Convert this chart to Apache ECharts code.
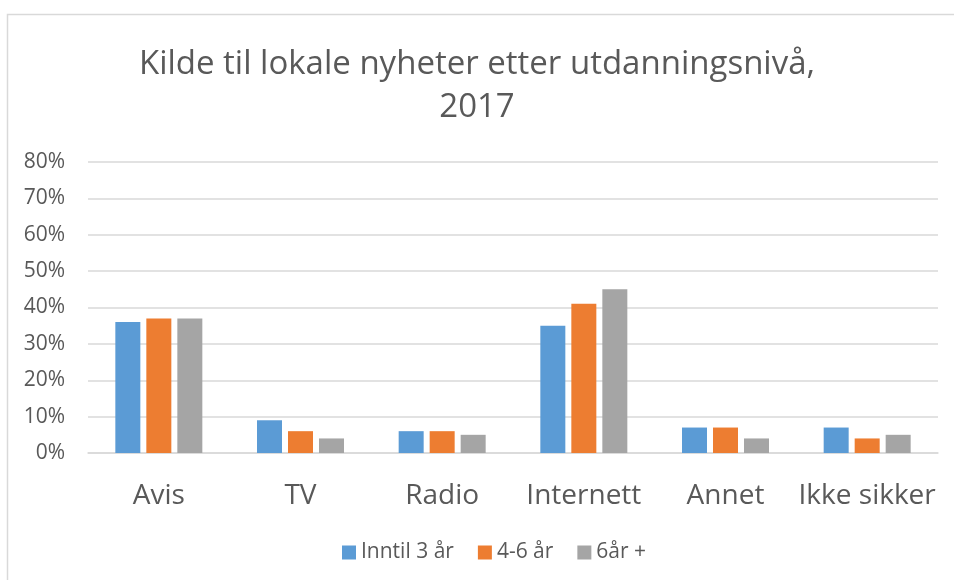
<!DOCTYPE html>
<html>
<head>
<meta charset="utf-8">
<script src="https://cdn.jsdelivr.net/npm/echarts@6/dist/echarts.min.js"></script>
<style>html,body{margin:0;padding:0;background:#fff}#c{width:954px;height:580px}</style>
</head>
<body>
<div id="c"></div>
<script>
const categories = ["Avis", "TV", "Radio", "Internett", "Annet", "Ikke sikker"];
const seriesNames = ["Inntil 3 år", "4-6 år", "6år +"];
const inntil3 = [36, 9, 6, 35, 7, 7];
const fireTilSeks = [37, 6, 6, 41, 7, 4];
const seksPluss = [37, 4, 5, 45, 4, 5];
const colors = ["#5b9bd5", "#ed7d31", "#a5a5a5"];
const values = [inntil3, fireTilSeks, seksPluss];

const chart = echarts.init(document.getElementById('c'), null, {renderer: 'canvas'});
const font = '"Open Sans", sans-serif';
chart.setOption({
  animation: false,
  textStyle: {fontFamily: font},
  graphic: [{
    type: 'rect', shape: {x: 7.5, y: 14.5, width: 2000, height: 2000},
    style: {fill: 'none', stroke: '#d9d9d9', lineWidth: 1.5}, silent: true
  }],
  title: {
    text: 'Kilde til lokale nyheter etter utdanningsnivå,\n2017',
    left: 'center', top: 38,
    textStyle: {fontFamily: font, fontSize: 33, fontWeight: 'normal', color: '#595959', lineHeight: 43}
  },
  legend: {
    bottom: 12, left: 337, itemWidth: 14, itemHeight: 14, itemGap: 24,
    icon: 'rect',
    textStyle: {fontFamily: font, fontSize: 21, color: '#595959'},
    data: seriesNames
  },
  grid: {left: 88, right: 16, top: 162, bottom: 127, containLabel: false},
  xAxis: {
    type: 'category', data: categories,
    axisLine: {lineStyle: {color: '#d9d9d9', width: 1.5}},
    axisTick: {show: false},
    axisLabel: {interval: 0, fontFamily: font, fontSize: 28, color: '#595959', margin: 29}
  },
  yAxis: {
    type: 'value', min: 0, max: 80, interval: 10,
    axisLine: {show: false}, axisTick: {show: false},
    axisLabel: {fontFamily: font, fontSize: 21, color: '#595959', formatter: '{value}%', margin: 23},
    splitLine: {lineStyle: {color: '#d9d9d9', width: 1.5}}
  },
  series: seriesNames.map((n, i) => ({
    name: n, type: 'bar', data: values[i], barWidth: 25, barGap: '24%',
    itemStyle: {color: colors[i]}
  }))
});
</script>
</body>
</html>
